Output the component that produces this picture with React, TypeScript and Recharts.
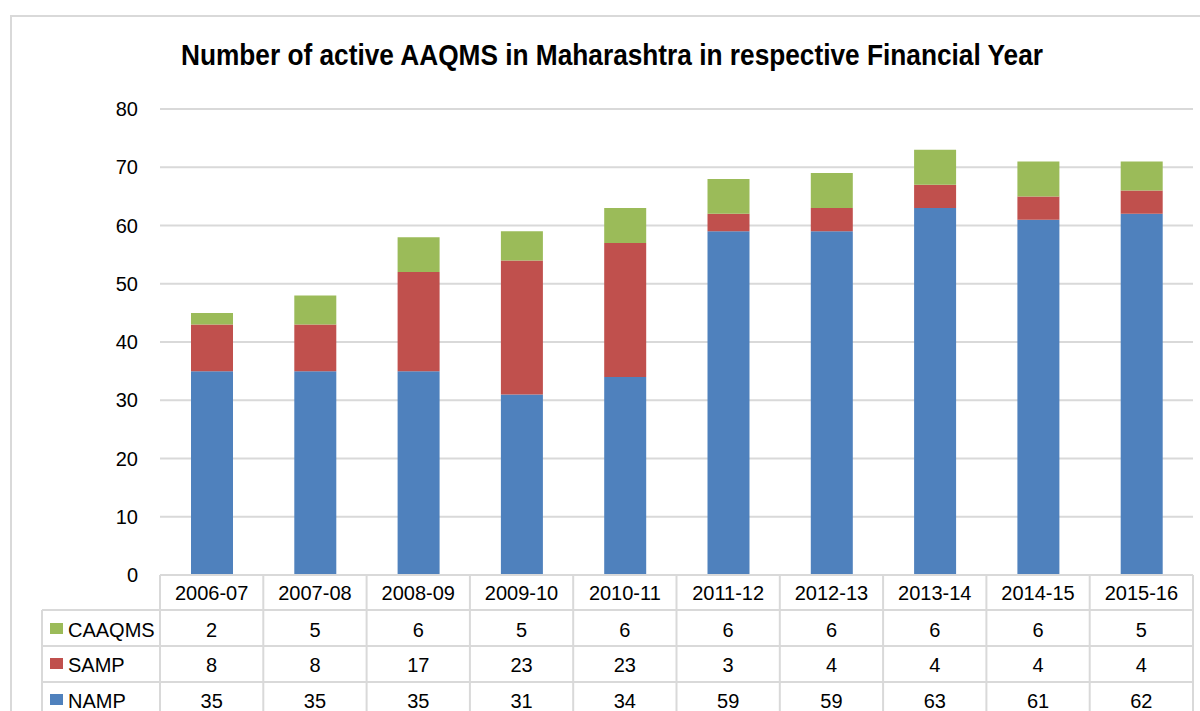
import React from "react";
import { BarChart, Bar, XAxis, YAxis, CartesianGrid } from "recharts";

const YEARS = ["2006-07", "2007-08", "2008-09", "2009-10", "2010-11", "2011-12", "2012-13", "2013-14", "2014-15", "2015-16"];
const NAMP = [35, 35, 35, 31, 34, 59, 59, 63, 61, 62];
const SAMP = [8, 8, 17, 23, 23, 3, 4, 4, 4, 4];
const CAAQMS = [2, 5, 6, 5, 6, 6, 6, 6, 6, 5];
const Y_TICKS = [0, 10, 20, 30, 40, 50, 60, 70, 80];
const TITLE = "Number of active AAQMS in Maharashtra in respective Financial Year";

const SERIES = [
  { key: "CAAQMS", values: CAAQMS, color: "#9BBB59" },
  { key: "SAMP", values: SAMP, color: "#C0504D" },
  { key: "NAMP", values: NAMP, color: "#4F81BD" },
];

const data = YEARS.map((year, i) => ({
  year,
  NAMP: NAMP[i],
  SAMP: SAMP[i],
  CAAQMS: CAAQMS[i],
}));

const W = 1200;
const H = 711;
const LEFT = 160;
const RIGHT_M = 7;
const TOP = 109;
const AXIS_H = 136;
const PLOT_W = W - LEFT - RIGHT_M;
const BAND = PLOT_W / YEARS.length;
const GRID = "#d9d9d9";
const FONT = "'Liberation Sans', Arial, sans-serif";

const ROW_TOPS = [35, 71, 107]; // relative to axis top
const BASELINES = [25, 62, 97, 133];
const TABLE_LEFT = 42;

function TableTick(props: any) {
  const { x, y, payload, index } = props;
  const i = payload.index ?? index;
  const left = x - BAND / 2;
  const right = x + BAND / 2;
  const bottom = y + AXIS_H + 20;
  return (
    <g>
      {i === 0 && (
        <g>
          <line x1={left} x2={left} y1={y} y2={bottom} stroke={GRID} strokeWidth={2} />
          <line x1={TABLE_LEFT} x2={TABLE_LEFT} y1={y + ROW_TOPS[0]} y2={bottom} stroke={GRID} strokeWidth={2} />
          {ROW_TOPS.map((r) => (
            <line key={r} x1={TABLE_LEFT} x2={left + PLOT_W} y1={y + r} y2={y + r} stroke={GRID} strokeWidth={2} />
          ))}
          {SERIES.map((s, k) => (
            <g key={s.key}>
              <rect x={50} y={y + BASELINES[k + 1] - 14} width={13} height={11} fill={s.color} />
              <text x={68} y={y + BASELINES[k + 1]} fontSize={20} fontFamily={FONT} fill="#000">
                {s.key}
              </text>
            </g>
          ))}
        </g>
      )}
      <line x1={right} x2={right} y1={y} y2={bottom} stroke={GRID} strokeWidth={2} />
      <text x={x} y={y + BASELINES[0]} textAnchor="middle" fontSize={20} fontFamily={FONT} fill="#000">
        {payload.value}
      </text>
      {SERIES.map((s, k) => (
        <text key={s.key} x={x} y={y + BASELINES[k + 1]} textAnchor="middle" fontSize={20} fontFamily={FONT} fill="#000">
          {s.values[i]}
        </text>
      ))}
    </g>
  );
}

export default function App() {
  return (
    <div style={{ position: "absolute", left: 0, top: 0, width: W, height: H, overflow: "hidden", background: "#fff" }}>
      <div
        style={{
          position: "absolute",
          left: 10,
          top: 15,
          width: W + 20,
          height: H + 20,
          border: `2px solid ${GRID}`,
          boxSizing: "border-box",
        }}
      />
      <svg width={W} height={100} style={{ position: "absolute", left: 0, top: 0 }}>
        <text
          x={181}
          y={65}
          textLength={862}
          lengthAdjust="spacingAndGlyphs"
          fontFamily={FONT}
          fontWeight="bold"
          fontSize={30}
          fill="#000"
        >
          {TITLE}
        </text>
      </svg>
      <div style={{ position: "absolute", left: 0, top: 0 }}>
        <BarChart width={W} height={H} data={data} margin={{ top: TOP, right: RIGHT_M, left: 0, bottom: 0 }}>
          <CartesianGrid vertical={false} stroke={GRID} strokeWidth={2} />
          <XAxis
            dataKey="year"
            height={AXIS_H}
            interval={0}
            tickLine={false}
            tickSize={0}
            tickMargin={0}
            axisLine={{ stroke: GRID, strokeWidth: 2 }}
            tick={<TableTick />}
          />
          <YAxis
            width={LEFT}
            domain={[0, 80]}
            ticks={Y_TICKS}
            interval={0}
            axisLine={false}
            tickLine={false}
            tickSize={0}
            tickMargin={22}
            tick={{ fontSize: 20, fontFamily: FONT, fill: "#000" }}
          />
          <Bar dataKey="NAMP" stackId="a" fill="#4F81BD" barSize={42} isAnimationActive={false} />
          <Bar dataKey="SAMP" stackId="a" fill="#C0504D" barSize={42} isAnimationActive={false} />
          <Bar dataKey="CAAQMS" stackId="a" fill="#9BBB59" barSize={42} isAnimationActive={false} />
        </BarChart>
      </div>
    </div>
  );
}
